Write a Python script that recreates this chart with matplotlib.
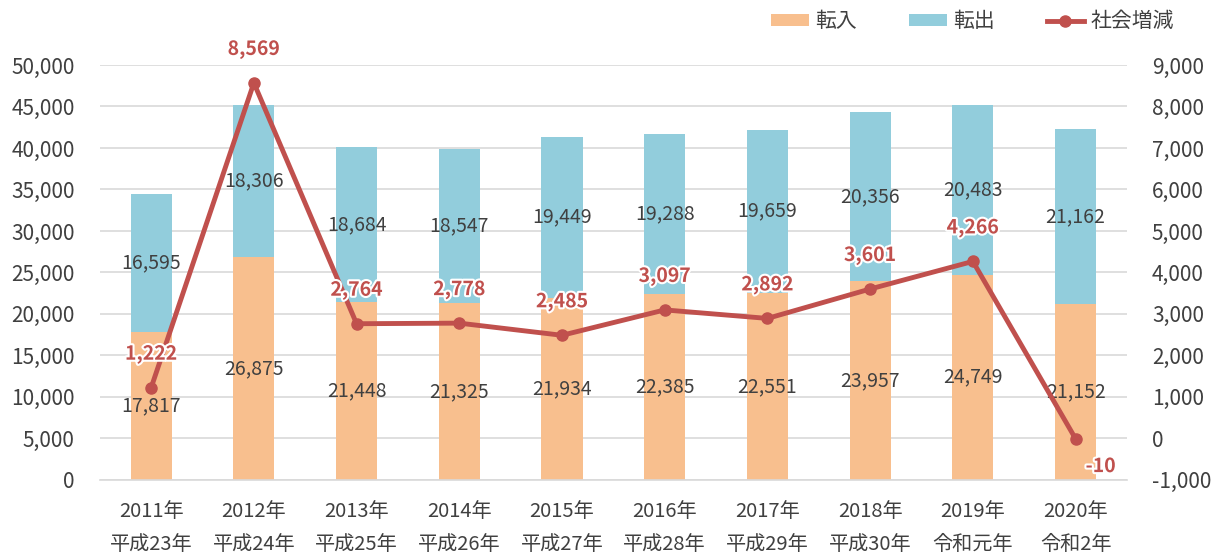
import numpy as np
import matplotlib
matplotlib.use("Agg")
from matplotlib import pyplot as plt
import matplotlib.patheffects as pe
from matplotlib.ticker import FuncFormatter

plt.rcParams['font.family'] = ['Noto Sans CJK JP', 'DejaVu Sans']

# data
years = ['2011年\n平成23年', '2012年\n平成24年', '2013年\n平成25年', '2014年\n平成26年',
         '2015年\n平成27年', '2016年\n平成28年', '2017年\n平成29年', '2018年\n平成30年',
         '2019年\n令和元年', '2020年\n令和2年']
tennyu = [17817, 26875, 21448, 21325, 21934, 22385, 22551, 23957, 24749, 21152]
tenshutsu = [16595, 18306, 18684, 18547, 19449, 19288, 19659, 20356, 20483, 21162]
shakai = [1222, 8569, 2764, 2778, 2485, 3097, 2892, 3601, 4266, -10]

c_in = '#F8BF8E'
c_out = '#92CDDC'
c_line = '#C0504D'
c_txt = '#404040'

fig = plt.figure(figsize=(12.17, 5.58), dpi=100)
ax = fig.add_axes([0.082, 0.14, 0.844, 0.7435])
x = np.arange(len(years))
w = 0.4

ax.bar(x, tennyu, w, color=c_in, label='転入', zorder=2)
ax.bar(x, tenshutsu, w, bottom=tennyu, color=c_out, label='転出', zorder=2)

for i in range(len(x)):
    ax.text(x[i], tennyu[i] / 2, f'{tennyu[i]:,}', ha='center', va='center',
            fontsize=14, color=c_txt, zorder=3)
    ax.text(x[i], tennyu[i] + tenshutsu[i] / 2, f'{tenshutsu[i]:,}', ha='center',
            va='center', fontsize=14, color=c_txt, zorder=3)

ax.set_xlim(-0.5, len(x) - 0.5)
ax.set_ylim(0, 50000)
ax.set_yticks(np.arange(0, 50001, 5000))
ax.yaxis.set_major_formatter(FuncFormatter(lambda v, p: f'{int(v):,}'))
ax.set_xticks(x)
ax.set_xticklabels(years, fontsize=14.5, color=c_txt, linespacing=1.75)
ax.tick_params(axis='y', labelsize=15, labelcolor=c_txt, length=0, pad=18)
ax.tick_params(axis='x', length=0, pad=15)
ax.grid(axis='y', color='#D9D9D9', lw=1.2, zorder=0)
ax.set_axisbelow(True)
for s in ['left', 'right', 'top']:
    ax.spines[s].set_visible(False)
ax.spines['bottom'].set_color('#D9D9D9')
ax.spines['bottom'].set_linewidth(1.2)

ax2 = ax.twinx()
ax2.plot(x, shakai, color=c_line, lw=3.5, marker='o', ms=8, label='社会増減', zorder=4)
ax2.set_ylim(-1000, 9000)
ax2.set_yticks(np.arange(-1000, 9001, 1000))
ax2.yaxis.set_major_formatter(FuncFormatter(lambda v, p: f'{int(v):,}'))
ax2.tick_params(axis='y', labelsize=15, labelcolor=c_txt, length=0, pad=18)
for s in ['left', 'right', 'top', 'bottom']:
    ax2.spines[s].set_visible(False)

for i in range(len(x)):
    if shakai[i] < 0:
        off = (18, -20)
    else:
        off = (0, 24)
    ax2.annotate(f'{shakai[i]:,}', (x[i], shakai[i]), xytext=off, textcoords='offset points',
                 ha='center', va='center', fontsize=14, fontweight='bold', color=c_line,
                 path_effects=[pe.withStroke(linewidth=3, foreground='white')], zorder=5)

h1, l1 = ax.get_legend_handles_labels()
h2, l2 = ax2.get_legend_handles_labels()
leg = fig.legend(h1 + h2, l1 + l2, loc='upper right', bbox_to_anchor=(0.98, 1.015), ncol=3,
                 frameon=False, fontsize=15, handlelength=1.8, handleheight=0.55,
                 columnspacing=2.5, handletextpad=0.3)
for t in leg.get_texts():
    t.set_color(c_txt)

fig.savefig('out.png', dpi=100)
